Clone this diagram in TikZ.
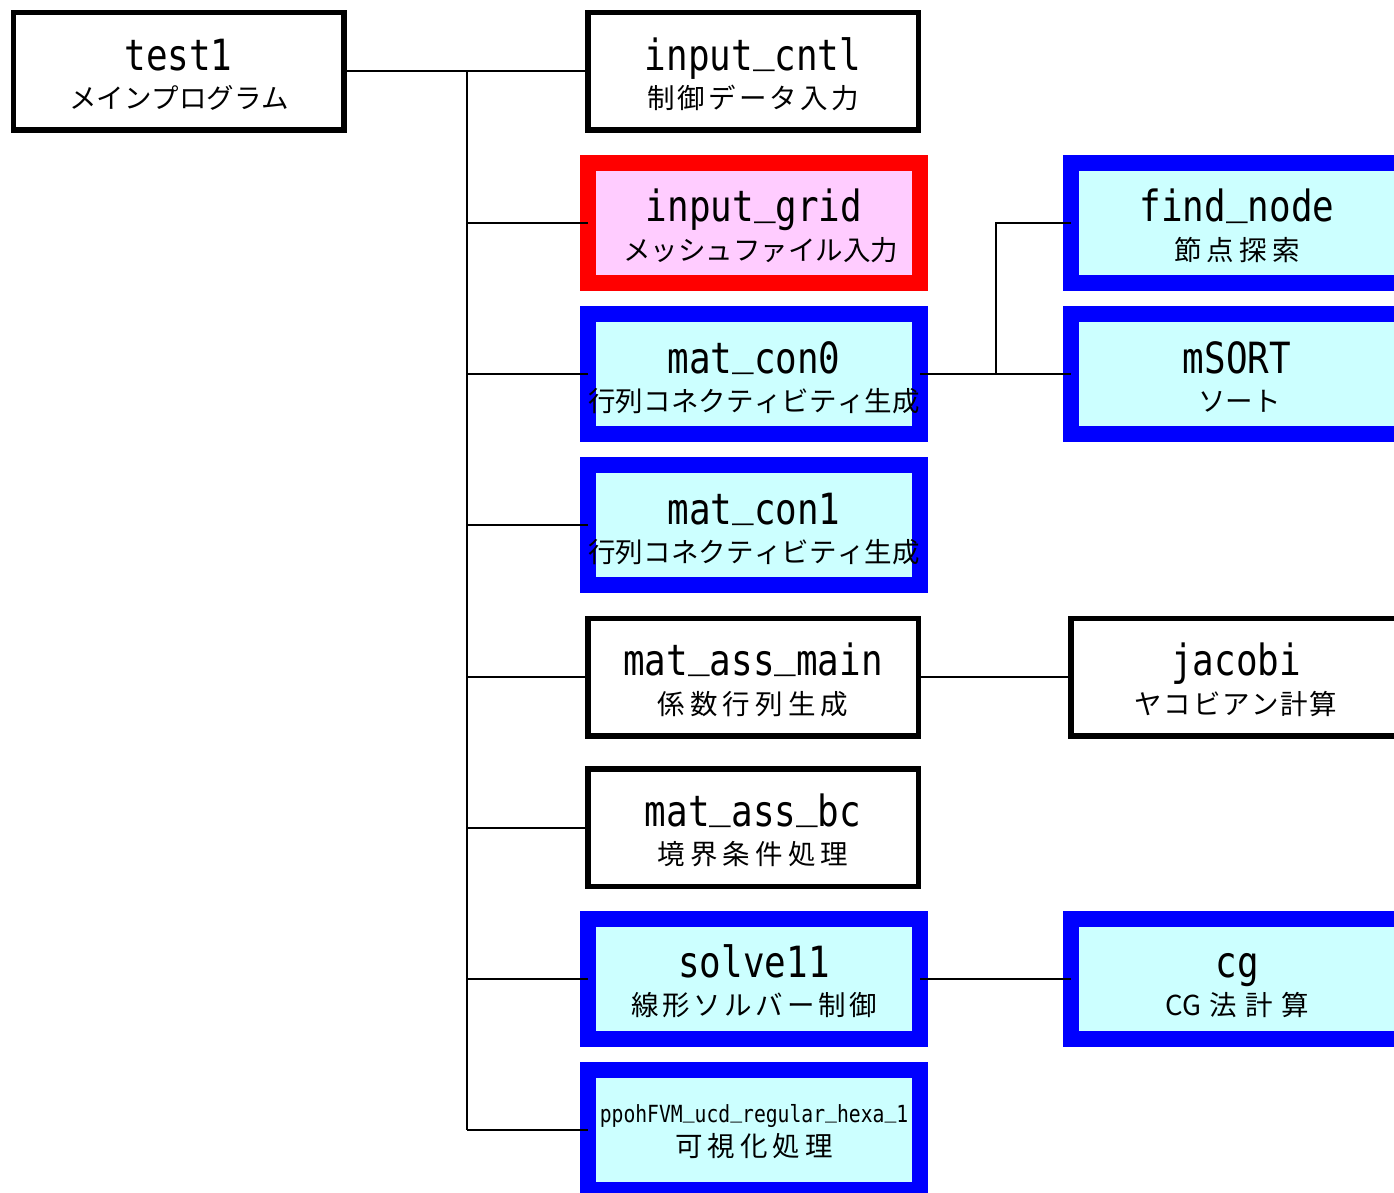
\documentclass[tikz,border=0pt]{standalone}
\usepackage{fontspec}
\newfontfamily\codefont[FakeStretch=0.835]{DejaVu Sans Mono}
\newfontfamily\jpfont{Noto Sans CJK JP}
\definecolor{callblue}{RGB}{0,0,255}
\definecolor{callcyan}{RGB}{204,255,255}
\definecolor{callred}{RGB}{255,0,0}
\definecolor{callpink}{RGB}{255,204,255}
% spread a Japanese caption over a given width (glue is \hfil between glyphs)
\newcommand\spreadjp[2]{\makebox[#1pt][s]{#2}}
% underscore sitting on the baseline
\newcommand\us{\raisebox{0.2em}{\_}}

\tikzset{
  plainbox/.style={draw=black, line width=5.5pt, fill=white,
    minimum width=330.5pt, minimum height=117.5pt, inner sep=0pt, outer sep=0pt},
  bluebox/.style={draw=callblue, line width=16pt, fill=callcyan,
    minimum width=332pt, minimum height=120pt, inner sep=0pt, outer sep=0pt},
  redbox/.style={bluebox, draw=callred, fill=callpink},
  codetext/.style={font=\codefont\fontsize{43}{43}\selectfont, anchor=base, inner sep=0pt},
  smallcode/.style={font=\codefont\fontsize{23.6}{24}\selectfont, anchor=base, inner sep=0pt},
  jptext/.style={font=\jpfont\fontsize{27.5}{28}\selectfont, anchor=base, inner sep=0pt},
  link/.style={draw=black, line width=2pt}
}

\begin{document}
\begin{tikzpicture}[x=1pt, y=-1pt]
  \fill[white] (0,0) rectangle (1394,1193);
  \clip (0,0) rectangle (1394,1193);

  % ---- boxes ----
  \node[plainbox] (test1) at (178.5,71.5) {};
  \node[plainbox] (cntl)  at (753,71.5) {};
  \node[redbox]   (grid)  at (754,223) {};
  \node[bluebox]  (con0)  at (754,374) {};
  \node[bluebox]  (con1)  at (754,525) {};
  \node[plainbox] (asmain) at (753,677) {};
  \node[plainbox] (asbc)  at (753,827.5) {};
  \node[bluebox]  (solve) at (754,978.5) {};
  \node[bluebox]  (ppoh)  at (754,1130) {};
  \node[bluebox]  (find)  at (1237,223) {};
  \node[bluebox]  (msort) at (1237,374) {};
  \node[plainbox] (jacobi) at (1236,677) {};
  \node[bluebox]  (cg)    at (1237,978.5) {};

  % ---- captions ----
  \node[codetext] (test1-n) at ([yshift=1pt]test1.center) {test1};
  \node[jptext]   (test1-j) at ([yshift=-37pt]test1.center) {\spreadjp{219}{メ\hfil イ\hfil ン\hfil プ\hfil ロ\hfil グ\hfil ラ\hfil ム}};

  \node[codetext] (cntl-n) at ([yshift=1pt]cntl.center) {input\us cntl};
  \node[jptext]   (cntl-j) at ([yshift=-37pt]cntl.center) {\spreadjp{212}{制\hfil 御\hfil デ\hfil ー\hfil タ\hfil 入\hfil 力}};

  \node[codetext] (grid-n) at ([yshift=1pt]grid.center) {input\us grid};
  \node[jptext]   (grid-j) at ([yshift=-37pt]grid.center) {\spreadjp{262}{メ\hfil ッ\hfil シ\hfil ュ\hfil フ\hfil ァ\hfil イ\hfil ル\hfil 入\hfil 力}};

  \node[codetext] (con0-n) at ([yshift=1pt]con0.center) {mat\us con0};
  \node[jptext]   (con0-j) at ([yshift=-37pt]con0.center) {\spreadjp{332}{行\hfil 列\hfil コ\hfil ネ\hfil ク\hfil テ\hfil ィ\hfil ビ\hfil テ\hfil ィ\hfil 生\hfil 成}};

  \node[codetext] (con1-n) at ([yshift=1pt]con1.center) {mat\us con1};
  \node[jptext]   (con1-j) at ([yshift=-37pt]con1.center) {\spreadjp{332}{行\hfil 列\hfil コ\hfil ネ\hfil ク\hfil テ\hfil ィ\hfil ビ\hfil テ\hfil ィ\hfil 生\hfil 成}};

  \node[codetext] (asmain-n) at ([yshift=2pt]asmain.center) {mat\us ass\us main};
  \node[jptext]   (asmain-j) at ([yshift=-37pt]asmain.center) {\spreadjp{191}{係\hfil 数\hfil 行\hfil 列\hfil 生\hfil 成}};

  \node[codetext] (asbc-n) at ([yshift=1pt]asbc.center) {mat\us ass\us bc};
  \node[jptext]   (asbc-j) at ([yshift=-37pt]asbc.center) {\spreadjp{191}{境\hfil 界\hfil 条\hfil 件\hfil 処\hfil 理}};

  \node[codetext] (solve-n) at ([yshift=1pt]solve.center) {solve11};
  \node[jptext]   (solve-j) at ([yshift=-37pt]solve.center) {\spreadjp{246}{線\hfil 形\hfil ソ\hfil ル\hfil バ\hfil ー\hfil 制\hfil 御}};

  \node[smallcode] (ppoh-n) at ([yshift=8pt]ppoh.center) {ppohFVM\us ucd\us regular\us hexa\us 1};
  \node[jptext]   (ppoh-j) at ([yshift=-26pt]ppoh.center) {\spreadjp{157}{可\hfil 視\hfil 化\hfil 処\hfil 理}};

  \node[codetext] (find-n) at ([yshift=1pt]find.center) {find\us node};
  \node[jptext]   (find-j) at ([yshift=-37pt]find.center) {\spreadjp{126}{節\hfil 点\hfil 探\hfil 索}};

  \node[codetext] (msort-n) at ([yshift=1pt]msort.center) {mSORT};
  \node[jptext]   (msort-j) at ([yshift=-37pt]msort.center) {\spreadjp{78}{ソ\hfil ー\hfil ト}};

  \node[codetext] (jacobi-n) at ([yshift=2pt]jacobi.center) {jacobi};
  \node[jptext]   (jacobi-j) at ([yshift=-37pt]jacobi.center) {\spreadjp{203}{ヤ\hfil コ\hfil ビ\hfil ア\hfil ン\hfil 計\hfil 算}};

  \node[codetext] (cg-n) at ([yshift=1pt]cg.center) {cg};
  \node[jptext]   (cg-j) at ([yshift=-37pt]cg.center) {\spreadjp{143}{CG\hfil 法\hfil 計\hfil 算}};

  % ---- call tree connectors ----
  \coordinate (trunk) at (467,0);
  \coordinate (fork) at (996,0);
  \draw[link] (test1.east) -- (cntl.west);
  \draw[link] (trunk |- test1.east) -- (trunk |- ppoh.west);
  \foreach \callee in {grid,con0,con1,asmain,asbc,solve,ppoh}
    \draw[link] (trunk |- \callee.west) -- (\callee.west);
  \draw[link] (con0.east) -- (msort.west);
  \draw[link] (fork |- con0.east) -- (fork |- find.west) -- (find.west);
  \draw[link] (asmain.east) -- (jacobi.west);
  \draw[link] (solve.east) -- (cg.west);
\end{tikzpicture}
\end{document}
